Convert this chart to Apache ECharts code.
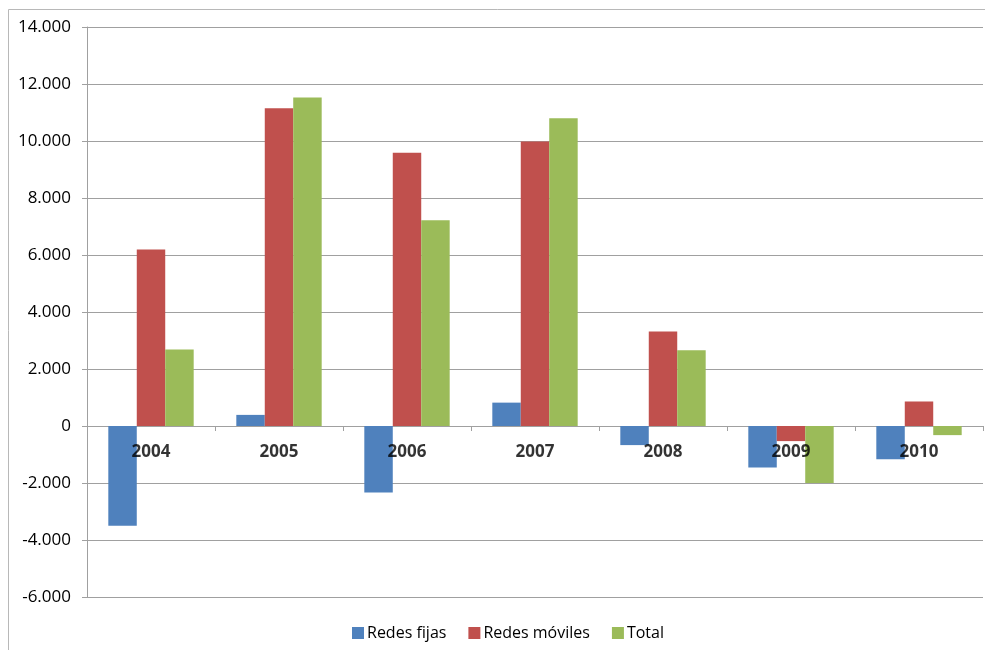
<!DOCTYPE html>
<html>
<head>
<meta charset="utf-8">
<script src="https://cdn.jsdelivr.net/npm/echarts@6/dist/echarts.min.js"></script>
<style>
  html, body { margin: 0; padding: 0; background: #ffffff; }
  #chart { width: 985px; height: 650px; }
</style>
</head>
<body>
<div id="chart"></div>
<script>
// Annual change in lines, by network type
const years = ['2004', '2005', '2006', '2007', '2008', '2009', '2010'];
const redesFijas = [-3500, 390, -2330, 820, -670, -1460, -1170];
const redesMoviles = [6190, 11150, 9590, 9980, 3320, -530, 860];
const total = [2680, 11530, 7220, 10800, 2660, -2000, -320];
const seriesNames = ['Redes fijas', 'Redes móviles', 'Total'];
const colors = ['#4F81BD', '#C0504D', '#9BBB59'];

const fmt = v => {
  const s = Math.abs(v).toString().replace(/\B(?=(\d{3})+(?!\d))/g, '.');
  return (v < 0 ? '-' : '') + s;
};

const chart = echarts.init(document.getElementById('chart'), null, { renderer: 'canvas' });
const font = '"Open Sans", "Liberation Sans", sans-serif';

const makeSeries = (name, data, color) => ({
  name: name,
  type: 'bar',
  data: data,
  barGap: '0%',
  barCategoryGap: '33.3%',
  itemStyle: { color: color },
  emphasis: { disabled: true }
});

chart.setOption({
  animation: false,
  color: colors,
  graphic: [{
    type: 'rect',
    shape: { x: 8.5, y: 9.5, width: 990, height: 660 },
    style: { fill: 'none', stroke: '#b8b8b8', lineWidth: 1 },
    silent: true
  }],
  grid: { left: 87, right: 2, top: 27, bottom: 53, containLabel: false },
  legend: {
    bottom: 4,
    left: 347,
    itemWidth: 12,
    itemHeight: 12,
    itemGap: 22,
    icon: 'rect',
    textStyle: { fontFamily: font, fontSize: 16, color: '#000', padding: [0, 0, 0, -2] },
    data: seriesNames
  },
  xAxis: {
    type: 'category',
    data: years,
    axisLine: { onZero: true, lineStyle: { color: '#a0a0a0', width: 1 } },
    axisTick: { show: true, length: 5, lineStyle: { color: '#a0a0a0' } },
    axisLabel: { show: false },
    splitLine: { show: false }
  },
  yAxis: {
    type: 'value',
    min: -6000,
    max: 14000,
    interval: 2000,
    axisLine: { show: true, lineStyle: { color: '#a0a0a0', width: 1 } },
    axisTick: { show: true, length: 5, lineStyle: { color: '#a0a0a0' } },
    axisLabel: { fontFamily: font, fontSize: 17, color: '#000', margin: 16, formatter: fmt },
    splitLine: { show: true, lineStyle: { color: '#a0a0a0', width: 1 } }
  },
  series: [
    makeSeries(seriesNames[0], redesFijas, colors[0]),
    makeSeries(seriesNames[1], redesMoviles, colors[1]),
    makeSeries(seriesNames[2], total, colors[2]),
    {
      // category names sitting just under the zero line
      name: 'years',
      type: 'scatter',
      data: years.map(y => [y, 0]),
      symbolSize: 0,
      silent: true,
      z: 10,
      label: {
        show: true,
        position: 'bottom',
        distance: 18,
        formatter: p => p.value[0],
        fontFamily: font,
        fontSize: 17,
        fontWeight: 'bold',
        color: '#000'
      }
    }
  ]
});
</script>
</body>
</html>
